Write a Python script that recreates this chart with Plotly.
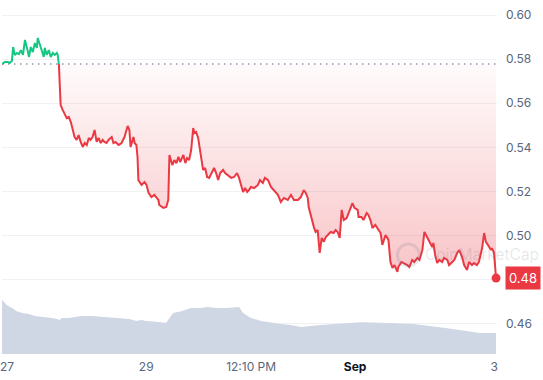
import numpy as np
import pandas as pd
import plotly.graph_objects as go

# ---- data ----
hours = [-1.7, -0.7, 0.3, 1.0, 1.7, 2.1, 2.7, 3.4, 4.1, 4.8, 5.5, 6.2, 6.9, 7.6, 8.2, 8.9, 9.6, 10.3,
         10.6, 11.3, 12.0, 12.7, 13.0, 13.7, 14.4, 15.1, 15.8, 16.5, 17.2, 17.5, 17.9, 18.2, 18.5, 19.2,
         19.9, 20.6, 21.3, 22.0, 22.7, 23.3, 24.0, 24.7, 25.4, 26.1, 26.8, 27.5, 28.2, 28.8, 29.5, 30.2,
         30.9, 31.6, 32.3, 33.0, 33.6, 34.3, 35.0, 36.1, 36.7, 37.4, 38.5, 39.5, 40.5, 41.6, 42.2, 42.6,
         43.6, 44.0, 44.6, 45.0, 45.3, 46.4, 47.4, 48.1, 48.8, 49.8, 50.8, 52.2, 52.5, 53.9, 54.9, 55.6,
         56.0, 57.0, 57.7, 58.4, 59.1, 59.7, 60.8, 61.5, 62.1, 62.8, 63.5, 64.2, 64.6, 65.2, 65.9, 67.0,
         67.6, 68.3, 69.0, 69.7, 70.7, 71.4, 72.1, 72.8, 73.5, 74.5, 75.2, 76.2, 77.3, 78.3, 79.3, 80.0,
         80.7, 81.4, 82.1, 82.8, 83.4, 84.1, 85.2, 86.5, 87.2, 88.2, 88.9, 90.0, 91.0, 92.0, 93.4, 94.4,
         95.5, 96.8, 97.9, 98.9, 100.3, 101.3, 102.3, 103.0, 103.7, 104.0, 105.1, 105.8, 106.4, 107.1,
         107.8, 108.5, 109.2, 109.9, 110.6, 111.6, 112.6, 113.3, 114.0, 114.7, 115.4, 116.1, 117.1, 117.8,
         119.1, 119.8, 120.9, 121.2, 122.2, 122.9, 124.0, 124.6, 125.3, 126.0, 127.0, 128.1, 128.8, 129.4,
         130.5, 131.5, 132.2, 132.9, 133.6, 134.6, 134.9, 136.0, 136.7, 138.0, 138.7, 139.7, 140.4, 141.5,
         142.2, 143.2, 143.9, 144.9, 145.6, 146.6, 147.0, 147.6, 148.3, 149.0, 150.0, 150.7, 151.8, 152.4,
         153.5, 154.2, 155.2, 155.9, 156.9, 157.6, 158.6, 159.3, 160.3, 161.0, 162.0, 162.7, 163.8, 164.5,
         165.1, 165.8, 166.9, 167.2, 167.9, 168.6]
price = [0.5778, 0.5787, 0.5787, 0.5783, 0.5792, 0.5855, 0.5819, 0.5828, 0.5823, 0.5841, 0.5819, 0.5887,
         0.5851, 0.5810, 0.5855, 0.5832, 0.5873, 0.5851, 0.5896, 0.5864, 0.5832, 0.5810, 0.5851, 0.5819,
         0.5841, 0.5810, 0.5828, 0.5819, 0.5828, 0.5819, 0.5774, 0.5615, 0.5592, 0.5570, 0.5547, 0.5533,
         0.5538, 0.5515, 0.5479, 0.5447, 0.5434, 0.5456, 0.5425, 0.5402, 0.5420, 0.5411, 0.5443, 0.5434,
         0.5447, 0.5479, 0.5425, 0.5443, 0.5420, 0.5434, 0.5425, 0.5420, 0.5434, 0.5447, 0.5420, 0.5425,
         0.5411, 0.5420, 0.5447, 0.5497, 0.5479, 0.5402, 0.5447, 0.5420, 0.5411, 0.5357, 0.5252, 0.5230,
         0.5243, 0.5230, 0.5194, 0.5175, 0.5185, 0.5162, 0.5139, 0.5126, 0.5130, 0.5162, 0.5366, 0.5320,
         0.5343, 0.5329, 0.5357, 0.5334, 0.5366, 0.5329, 0.5352, 0.5343, 0.5388, 0.5488, 0.5465, 0.5470,
         0.5443, 0.5357, 0.5298, 0.5307, 0.5266, 0.5262, 0.5289, 0.5307, 0.5284, 0.5252, 0.5284, 0.5298,
         0.5284, 0.5275, 0.5262, 0.5266, 0.5284, 0.5262, 0.5225, 0.5198, 0.5216, 0.5198, 0.5207, 0.5221,
         0.5216, 0.5230, 0.5252, 0.5239, 0.5262, 0.5252, 0.5221, 0.5207, 0.5185, 0.5153, 0.5171, 0.5162,
         0.5185, 0.5162, 0.5162, 0.5175, 0.5207, 0.5194, 0.5171, 0.5130, 0.5071, 0.5039, 0.5017, 0.5026,
         0.4922, 0.4990, 0.4972, 0.4994, 0.5003, 0.5017, 0.5012, 0.5026, 0.5017, 0.4990, 0.5117, 0.5071,
         0.5080, 0.5103, 0.5148, 0.5126, 0.5117, 0.5085, 0.5085, 0.5071, 0.5103, 0.5094, 0.5071, 0.5035,
         0.5049, 0.5026, 0.5012, 0.4958, 0.5003, 0.4981, 0.4881, 0.4854, 0.4867, 0.4836, 0.4858, 0.4881,
         0.4876, 0.4867, 0.4858, 0.4890, 0.4881, 0.4899, 0.4890, 0.4935, 0.5017, 0.4990, 0.4972, 0.4949,
         0.4967, 0.4913, 0.4876, 0.4890, 0.4881, 0.4899, 0.4890, 0.4867, 0.4881, 0.4890, 0.4922, 0.4935,
         0.4904, 0.4867, 0.4845, 0.4881, 0.4867, 0.4876, 0.4867, 0.4881, 0.4944, 0.5012, 0.4972, 0.4958,
         0.4935, 0.4944, 0.4922, 0.4808]
vol_hours = [-1.7, 0.0, 1.7, 3.4, 5.2, 7.6, 9.6, 12.0, 13.7, 15.5, 17.2, 18.2, 18.9, 21.3, 24.0, 25.8,
             29.2, 32.6, 36.1, 39.5, 42.2, 44.6, 46.4, 48.1, 51.5, 54.9, 56.0, 57.3, 60.1, 63.5, 65.2,
             67.0, 69.0, 72.1, 75.5, 80.0, 81.4, 84.1, 87.6, 91.0, 94.4, 97.9, 101.3, 108.2, 115.0,
             121.9, 128.8, 140.1, 151.8, 163.1, 168.6]
volume = [15.3, 13.8, 13.0, 12.1, 11.6, 11.3, 10.7, 10.5, 10.5, 10.2, 9.9, 9.6, 10.2, 10.2, 10.5, 10.7,
          10.7, 10.5, 10.2, 10.2, 9.9, 9.3, 9.6, 9.3, 9.0, 8.8, 10.2, 11.6, 12.1, 13.0, 13.0,
          13.0, 13.3, 13.0, 13.0, 13.3, 11.6, 10.2, 9.3, 8.8, 8.5, 8.2, 7.6, 8.2, 8.5,
          9.0, 8.8, 8.5, 7.3, 5.9, 5.9]
baseline = 0.5778
y_tick_vals = [0.46, 0.48, 0.50, 0.52, 0.54, 0.56, 0.58, 0.60]
y_tick_text = ["0.46", "", "0.50", "0.52", "0.54", "0.56", "0.58", "0.60"]
x_tick_times = ["2023-08-27 00:00", "2023-08-29 00:00", "2023-08-30 12:10", "2023-09-01 00:00", "2023-09-03 00:00"]
x_tick_text = ["27", "29", "12:10 PM", "<b style='color:#0d1421'>Sep</b>", "3"]
last_label = "0.48"

# ---- styling ----
GREEN = "#16c784"
RED = "#ea3943"
GRAY = "#58667e"
Y_MIN, Y_MAX = 0.4464, 0.6068
start = pd.Timestamp("2023-08-27")
t = start + pd.to_timedelta(hours, unit="h")
tv = start + pd.to_timedelta(vol_hours, unit="h")
x_range = [start + pd.Timedelta(hours=-1.72), start + pd.Timedelta(hours=168.93)]
f = (baseline - Y_MIN) / (Y_MAX - Y_MIN)
p = np.array(price)

fig = go.Figure()
fig.add_trace(go.Scatter(x=tv, y=volume, yaxis="y4", mode="lines", fill="tozeroy",
                         line=dict(width=0, color="#cfd6e4"), fillcolor="#cfd6e4", hoverinfo="skip"))
fig.add_trace(go.Scatter(x=t, y=np.full(len(p), baseline), mode="lines", line=dict(width=0),
                         hoverinfo="skip"))
fig.add_trace(go.Scatter(x=t, y=np.minimum(p, baseline), mode="lines", line=dict(width=0),
                         fill="tonexty",
                         fillgradient=dict(type="vertical",
                                           colorscale=[[0, "rgba(234,57,67,0.30)"], [1, "rgba(234,57,67,0.02)"]],
                                           start=float(p.min()), stop=baseline),
                         hoverinfo="skip"))
fig.add_trace(go.Scatter(x=t, y=p, yaxis="y3", mode="lines", line=dict(color=RED, width=2)))
fig.add_trace(go.Scatter(x=t, y=p, yaxis="y2", mode="lines", line=dict(color=GREEN, width=2)))
fig.add_trace(go.Scatter(x=[t[-1]], y=[p[-1]], mode="markers", cliponaxis=False,
                         marker=dict(color=RED, size=9)))

fig.add_shape(type="line", xref="paper", x0=0, x1=1, yref="y", y0=baseline, y1=baseline,
              line=dict(color="#8f98aa", width=1.4, dash="1.5px,4.5px"), layer="below")

fig.add_annotation(xref="paper", x=1, xanchor="left", xshift=8, yref="y", y=p[-1],
                   text=last_label, showarrow=False, bgcolor=RED, borderpad=3,
                   font=dict(color="white", size=13, family="Inter"))
# watermark
fig.add_annotation(xref="paper", x=423 / 497, xanchor="left", yref="paper", y=0.28, yanchor="middle",
                   text="CoinMarketCap", showarrow=False,
                   font=dict(color="rgba(88,102,126,0.16)", size=15.5, family="Inter"))
fig.add_shape(type="circle", xref="paper", yref="paper", x0=397 / 497, x1=419 / 497,
              y0=(354 - 266) / 354, y1=(354 - 244) / 354,
              line=dict(color="rgba(88,102,126,0.14)", width=3))

fig.update_layout(
    width=543, height=380,
    margin=dict(l=0, r=46, t=0, b=26),
    paper_bgcolor="white", plot_bgcolor="rgba(0,0,0,0)",
    showlegend=False,
    font=dict(family="Inter", color=GRAY, size=12),
    xaxis=dict(type="date", range=x_range, showgrid=False, zeroline=False, showline=False,
               tickvals=x_tick_times, ticktext=x_tick_text, ticks="", ticklabeloverflow="allow",
               tickfont=dict(size=12, color=GRAY), ticklabelstandoff=4),
    yaxis=dict(domain=[0, 1], range=[Y_MIN, Y_MAX], side="right", anchor="x",
               tickvals=y_tick_vals, ticktext=y_tick_text, showgrid=True, gridcolor="#eff1f4",
               gridwidth=1, zeroline=False, showline=False, ticks="",
               tickfont=dict(size=12, color=GRAY), ticklabelstandoff=8),
    yaxis2=dict(domain=[f, 1], range=[baseline, Y_MAX], anchor="x", visible=False),
    yaxis3=dict(domain=[0, f], range=[Y_MIN, baseline], anchor="x", visible=False),
    yaxis4=dict(overlaying="y", range=[0, 100], visible=False),
)

fig.write_html("out.html")
